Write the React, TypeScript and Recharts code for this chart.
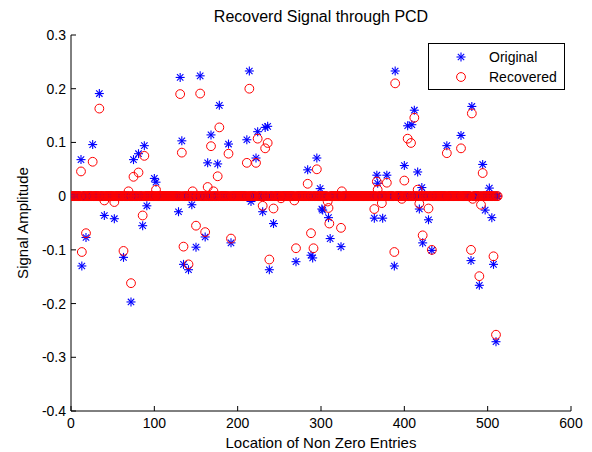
import { Legend, Scatter, ScatterChart, XAxis, YAxis } from "recharts";

// sparse signal: [index, amplitude], all other entries are zero
const signalLength = 512;
const originalNonZero: [number, number][] = [
  [12, 0.068], [13, -0.13], [18, -0.077], [26, 0.096], [34, 0.191], [40, -0.036], [52, -0.042],
  [63, -0.114], [72, -0.197], [75, 0.068], [81, 0.079], [86, -0.055], [88, 0.094], [91, -0.018],
  [100, 0.033], [102, 0.026], [129, -0.029], [131, 0.221], [133, 0.103], [135, -0.127], [141, -0.137],
  [145, -0.016], [150, -0.095], [155, 0.224], [161, -0.076], [164, 0.062], [168, 0.114], [176, 0.06],
  [178, 0.169], [189, 0.097], [192, -0.087], [211, 0.105], [214, 0.233], [216, -0.01], [222, 0.071],
  [224, 0.12], [230, -0.029], [233, 0.128], [236, 0.13], [238, -0.137], [243, -0.051], [270, -0.122],
  [284, 0.049], [288, -0.11], [290, -0.115], [295, 0.071], [299, 0.014], [301, -0.024], [302, -0.026],
  [309, -0.04], [311, -0.079], [324, -0.094], [364, -0.041], [367, 0.039], [368, 0.024], [374, -0.041],
  [379, 0.039], [388, -0.13], [389, 0.233], [400, 0.057], [404, 0.131], [409, 0.133], [412, 0.16],
  [416, 0.045], [418, -0.024], [421, 0.016], [422, -0.087], [429, -0.044], [433, -0.101], [451, 0.094],
  [468, 0.113], [480, -0.12], [481, 0.167], [490, -0.166], [494, 0.059], [497, -0.026], [502, 0.015],
  [505, -0.04], [507, -0.127], [510, -0.271],
];
const recoveredNonZero: [number, number][] = [
  [12, 0.046], [13, -0.104], [18, -0.069], [26, 0.064], [34, 0.163], [40, -0.008], [52, -0.011],
  [63, -0.102], [69, 0.009], [72, -0.162], [75, 0.036], [81, 0.044], [86, -0.036], [88, 0.075],
  [102, 0.012], [131, 0.19], [133, 0.081], [135, -0.094], [141, -0.127], [146, 0.009], [150, -0.055],
  [155, 0.191], [161, -0.067], [164, 0.017], [168, 0.093], [171, 0.009], [176, 0.037], [178, 0.128],
  [189, 0.079], [192, -0.079], [211, 0.062], [214, 0.2], [222, 0.062], [224, 0.107], [230, -0.018],
  [233, 0.089], [236, 0.099], [238, -0.118], [243, -0.023], [252, -0.004], [268, -0.008], [270, -0.097],
  [284, 0.023], [288, -0.069], [291, -0.097], [295, 0.05], [308, -0.01], [309, -0.022], [310, -0.051],
  [324, -0.059], [325, 0.009], [364, -0.024], [367, 0.027], [368, 0.012], [373, -0.013], [379, 0.025],
  [388, -0.104], [389, 0.21], [397, -0.005], [400, 0.029], [404, 0.107], [408, 0.099], [412, 0.146],
  [416, 0.012], [418, -0.014], [422, -0.073], [429, -0.023], [433, -0.1], [451, 0.08], [468, 0.089],
  [480, -0.1], [481, 0.154], [482, -0.005], [490, -0.149], [492, -0.016], [494, 0.043], [507, -0.112],
  [510, -0.258],
];
const xTicks = [0, 100, 200, 300, 400, 500, 600];
const yTicks = [-0.4, -0.3, -0.2, -0.1, 0, 0.1, 0.2, 0.3];

const font = "Arial, 'Liberation Sans', Helvetica, sans-serif";
const blue = "#0000ff";
const red = "#ff0000";

function expand(pairs: [number, number][]) {
  const values = new Map(pairs);
  return Array.from({ length: signalLength }, (_, i) => ({ x: i + 1, y: values.get(i + 1) ?? 0 }));
}

const original = expand(originalNonZero);
const recovered = expand(recoveredNonZero);

function Asterisk({ cx, cy }: { cx?: number; cy?: number }) {
  if (cx == null || cy == null) return null;
  const s = 4.5;
  const d = 3.2;
  return (
    <g stroke={blue} strokeWidth={1.1}>
      <line x1={cx - s} y1={cy} x2={cx + s} y2={cy} />
      <line x1={cx} y1={cy - s} x2={cx} y2={cy + s} />
      <line x1={cx - d} y1={cy - d} x2={cx + d} y2={cy + d} />
      <line x1={cx - d} y1={cy + d} x2={cx + d} y2={cy - d} />
    </g>
  );
}

function OpenCircle({ cx, cy }: { cx?: number; cy?: number }) {
  if (cx == null || cy == null) return null;
  return <circle cx={cx} cy={cy} r={4.4} fill="none" stroke={red} strokeWidth={1} />;
}

function LegendBox() {
  return (
    <div style={{ border: "1px solid #000", background: "#fff", width: 137, height: 47, fontFamily: font, fontSize: 14, color: "#000", boxSizing: "border-box", paddingTop: 3 }}>
      <div style={{ display: "flex", alignItems: "center", height: 20 }}>
        <svg width={60} height={20}><Asterisk cx={32} cy={10} /></svg>
        <span>Original</span>
      </div>
      <div style={{ display: "flex", alignItems: "center", height: 20 }}>
        <svg width={60} height={20}><OpenCircle cx={32} cy={10} /></svg>
        <span>Recovered</span>
      </div>
    </div>
  );
}

export default function App() {
  const tickStyle = { fill: "#000", fontSize: 14, fontFamily: font };
  return (
    <div style={{ position: "relative", width: 592, height: 452, background: "#fff" }}>
      <style>{"body{margin:0}"}</style>
      <div style={{ position: "absolute", top: 8, left: 0, width: 642, textAlign: "center", fontFamily: font, fontSize: 16, color: "#000" }}>
        Recoverd Signal through PCD
      </div>
      <ScatterChart width={592} height={452} margin={{ top: 35, right: 21, bottom: 1, left: 11 }}>
        <XAxis
          xAxisId="bottom"
          type="number"
          dataKey="x"
          domain={[0, 600]}
          ticks={xTicks}
          allowDataOverflow
          height={40}
          stroke="#000"
          tickSize={-5}
          tickMargin={12}
          tick={tickStyle}
          label={{ value: "Location of Non Zero Entries", position: "insideBottom", offset: 3, fill: "#000", fontSize: 15, fontFamily: font }}
        />
        <XAxis xAxisId="top" orientation="top" type="number" dataKey="x" domain={[0, 600]} ticks={xTicks} height={0} stroke="#000" tickSize={-5} tick={false} />
        <YAxis
          yAxisId="left"
          type="number"
          dataKey="y"
          domain={[-0.4, 0.3]}
          ticks={yTicks}
          allowDataOverflow
          width={60}
          stroke="#000"
          tickSize={-5}
          tickMargin={10}
          tick={tickStyle}
          tickFormatter={(v: number) => (v === 0 ? "0" : v.toFixed(1))}
          label={{ value: "Signal Amplitude", angle: -90, position: "insideLeft", offset: 12, fill: "#000", fontSize: 15, fontFamily: font, style: { textAnchor: "middle" } }}
        />
        <YAxis yAxisId="right" orientation="right" type="number" dataKey="y" domain={[-0.4, 0.3]} ticks={yTicks} width={0} stroke="#000" tickSize={-5} tick={false} />
        <Legend layout="vertical" align="center" verticalAlign="middle" wrapperStyle={{ position: "absolute", left: 428, top: 43, width: 137 }} content={() => <LegendBox />} />
        <Scatter name="Original" data={original} xAxisId="bottom" yAxisId="left" shape={(p: any) => <Asterisk cx={p.cx} cy={p.cy} />} isAnimationActive={false} />
        <Scatter name="Recovered" data={recovered} xAxisId="bottom" yAxisId="left" shape={(p: any) => <OpenCircle cx={p.cx} cy={p.cy} />} isAnimationActive={false} />
      </ScatterChart>
    </div>
  );
}
